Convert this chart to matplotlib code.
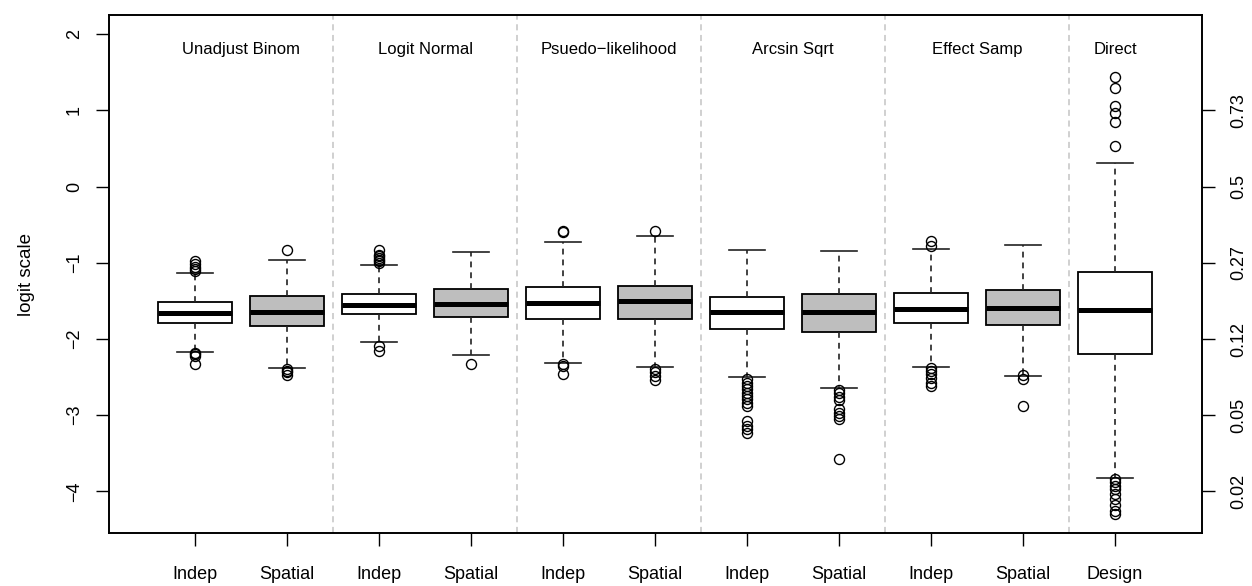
import matplotlib
matplotlib.use("Agg")
import matplotlib.pyplot as plt

plt.rcParams["font.family"] = ["Liberation Sans", "DejaVu Sans"]

# Estimation methods (one panel each) and the box labels beneath them
methods = ["Unadjust Binom", "Logit Normal", "Psuedo\u2212likelihood",
           "Arcsin Sqrt", "Effect Samp", "Direct"]
box_labels = ["Indep", "Spatial", "Indep", "Spatial", "Indep", "Spatial",
              "Indep", "Spatial", "Indep", "Spatial", "Design"]

# Five-number summaries on the logit scale
whisker_lo = [-2.164, -2.386, -2.042, -2.216, -2.321, -2.369,
              -2.500, -2.644, -2.364, -2.487, -3.826]
q1 = [-1.788, -1.823, -1.666, -1.714, -1.732, -1.736,
      -1.867, -1.911, -1.788, -1.819, -2.190]
medians = [-1.662, -1.640, -1.557, -1.535, -1.522, -1.505,
           -1.649, -1.644, -1.601, -1.592, -1.617]
q3 = [-1.518, -1.435, -1.408, -1.343, -1.322, -1.300,
      -1.448, -1.408, -1.396, -1.361, -1.117]
whisker_hi = [-1.134, -0.959, -1.025, -0.855, -0.724, -0.645,
              -0.829, -0.851, -0.820, -0.763, 0.314]

outliers = [
    [-0.98, -1.02, -1.05, -1.08, -1.11, -2.18, -2.20, -2.225, -2.325],
    [-0.838, -2.39, -2.415, -2.435, -2.47],
    [-0.829, -0.894, -0.915, -0.937, -0.96, -0.98, -1.00, -2.094, -2.16],
    [-2.334],
    [-0.589, -0.60, -2.334, -2.36, -2.456],
    [-0.589, -2.39, -2.435, -2.487, -2.54],
    [-2.53, -2.573, -2.618, -2.661, -2.705, -2.749, -2.792, -2.836, -2.88,
     -3.076, -3.141, -3.185, -3.237],
    [-2.67, -2.713, -2.757, -2.801, -2.923, -2.966, -3.01, -3.054, -3.577],
    [-0.72, -0.785, -2.377, -2.42, -2.465, -2.508, -2.574, -2.618],
    [-2.474, -2.53, -2.88],
    [1.44, 1.288, 1.06, 0.969, 0.851, 0.533, -3.839, -3.882, -3.927,
     -3.97, -4.035, -4.10, -4.18, -4.254, -4.297],
]

fill_colors = ["white", "#BEBEBE"] * 5 + ["white"]

# Secondary axis: probability scale at integer logits
prob_ticks = [-4, -3, -2, -1, 0, 1]
prob_labels = ["0.02", "0.05", "0.12", "0.27", "0.5", "0.73"]
logit_ticks = [-4, -3, -2, -1, 0, 1, 2]

fig = plt.figure(figsize=(12.52, 5.86), dpi=100)
ax = fig.add_axes([0.0867, 0.0896, 0.9597 - 0.0867, 0.9744 - 0.0896])

positions = list(range(1, len(box_labels) + 1))
stats = []
for i in range(len(box_labels)):
    stats.append(dict(whislo=whisker_lo[i], q1=q1[i], med=medians[i],
                      q3=q3[i], whishi=whisker_hi[i], fliers=outliers[i]))

# panel separators
for k in range(1, len(methods)):
    ax.axvline(2 * k + 0.5, color="#C4C4C4", lw=1.1, ls=(0, (4, 3)), zorder=0)

bp = ax.bxp(stats, positions=positions, widths=0.8, capwidths=0.4,
            patch_artist=True, showfliers=True,
            boxprops=dict(edgecolor="black", linewidth=1.3),
            medianprops=dict(color="black", linewidth=3.6, solid_capstyle="butt"),
            whiskerprops=dict(color="#222222", linewidth=1.2, ls=(0, (3.5, 3))),
            capprops=dict(color="#222222", linewidth=1.2),
            flierprops=dict(marker="o", markersize=7.2, markerfacecolor="none",
                            markeredgecolor="black", markeredgewidth=1.0))
for patch, col in zip(bp["boxes"], fill_colors):
    patch.set_facecolor(col)

# method titles inside the panels
title_x = [1.5, 3.5, 5.5, 7.5, 9.5, 11.0]
for name, xm in zip(methods, title_x):
    ax.text(xm, 1.8, name, ha="center", va="center", fontsize=12)

ax.set_xlim(0.06, 11.94)
ax.set_ylim(-4.552, 2.252)
ax.set_xticks(positions)
ax.set_xticklabels(box_labels, fontsize=13)
ax.set_yticks(logit_ticks)
ax.set_yticklabels([str(t).replace("-", "\u2212") for t in logit_ticks],
                   fontsize=13, rotation=90, va="center")
ax.set_ylabel("logit scale", fontsize=13.5, labelpad=22)
ax.tick_params(axis="both", direction="out", length=9.5, width=1.0)
ax.tick_params(axis="x", pad=14)
ax.tick_params(axis="y", pad=9)

ax2 = ax.twinx()
ax2.set_ylim(ax.get_ylim())
ax2.set_yticks(prob_ticks)
ax2.set_yticklabels(prob_labels, fontsize=13, rotation=90, va="center")
ax2.tick_params(axis="y", direction="out", length=9.5, width=1.0, pad=11)

for a in (ax, ax2):
    for s in a.spines.values():
        s.set_linewidth(1.2)

fig.savefig("out.png", dpi=100)
